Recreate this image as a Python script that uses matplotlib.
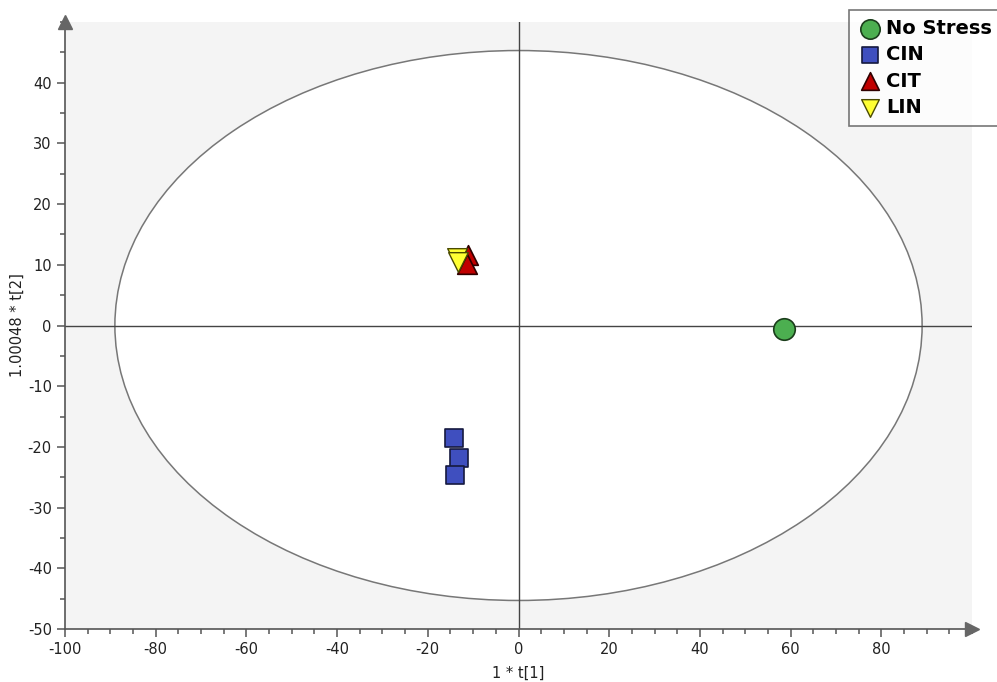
import matplotlib
matplotlib.use("Agg")
import matplotlib.pyplot as plt
from matplotlib.patches import Ellipse
from matplotlib.ticker import MultipleLocator

plt.rcParams["axes.unicode_minus"] = False

# ── Data (score plot t[1] vs t[2]) ──────────────────────────────────────────
groups = ["No Stress", "CIN", "CIT", "LIN"]
nostress_x = [58.6]
nostress_y = [-0.6]
cin_x = [-14.3, -13.2, -14.1]
cin_y = [-18.6, -21.9, -24.6]
cit_x = [-11.2, -11.4]
cit_y = [11.6, 10.2]
lin_x = [-13.6, -13.3]
lin_y = [11.2, 10.5]
ellipse_w = 178.0   # Hotelling T2 ellipse full width
ellipse_h = 90.6

fig = plt.figure(figsize=(9.97, 6.82), dpi=100)
ax = fig.add_axes([65 / 997, 1 - 629 / 682, (972 - 65) / 997, (629 - 22) / 682])
ax.set_facecolor("#f4f4f4")
ax.set_xlim(-100, 100)
ax.set_ylim(-50, 50)

for s in ["top", "right"]:
    ax.spines[s].set_visible(False)
for s in ["left", "bottom"]:
    ax.spines[s].set_color("#555555")
    ax.spines[s].set_linewidth(1.2)

ax.xaxis.set_minor_locator(MultipleLocator(5))
ax.yaxis.set_minor_locator(MultipleLocator(5))
ax.set_xticks(range(-100, 81, 20))
ax.set_yticks(range(-50, 41, 10))
ax.tick_params(which="major", length=6, width=1.1, color="#555555",
               labelsize=10.5, labelcolor="#222222")
ax.tick_params(which="minor", length=3.5, width=1.1, color="#555555")

# axis arrows
ax.plot(1, 0, ">", transform=ax.transAxes, color="#666666", ms=10,
        clip_on=False, zorder=5)
ax.plot(0, 1, "^", transform=ax.transAxes, color="#666666", ms=10,
        clip_on=False, zorder=5)

# crosshair + ellipse
ax.axhline(0, color="#444444", lw=1.0, zorder=1)
ax.axvline(0, color="#444444", lw=1.0, zorder=1)
ax.add_patch(Ellipse((0, 0), ellipse_w, ellipse_h, fill=True, fc="white",
                     ec="#777777", lw=1.1, zorder=0.5))

ax.scatter(nostress_x, nostress_y, marker="o", s=240, c="#4caf50",
           edgecolors="#1b3d1b", linewidths=1.2, zorder=4, label=groups[0])
ax.scatter(cin_x, cin_y, marker="s", s=180, c="#3f4fbf",
           edgecolors="#15193f", linewidths=1.2, zorder=4, label=groups[1])
ax.scatter(cit_x, cit_y, marker="^", s=200, c="#c00000",
           edgecolors="#300000", linewidths=1.2, zorder=4, label=groups[2])
ax.scatter(lin_x, lin_y, marker="v", s=200, c="#ffff33",
           edgecolors="#4a4a00", linewidths=1.0, zorder=4, label=groups[3])

ax.set_xlabel("1 * t[1]", fontsize=10.5, color="#222222", labelpad=6)
ax.set_ylabel("1.00048 * t[2]", fontsize=10.5, color="#222222", labelpad=2)

leg = fig.legend(loc="upper left", bbox_to_anchor=(849 / 997, 1 - 10 / 682),
                 frameon=True, fancybox=False, edgecolor="#555555",
                 prop={"weight": "bold", "size": 14}, handletextpad=0.15,
                 borderpad=0.45, labelspacing=0.38, handlelength=1.3,
                 markerscale=0.9, borderaxespad=0)
leg.get_frame().set_linewidth(1.2)

fig.savefig("out.png", dpi=100)
